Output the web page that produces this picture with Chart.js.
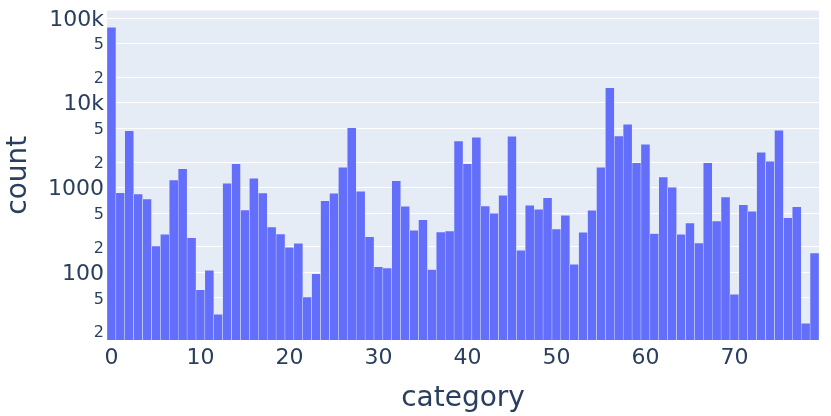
<!DOCTYPE html>
<html>
<head>
<meta charset="utf-8">
<script src="https://cdn.jsdelivr.net/npm/chart.js@4/dist/chart.umd.min.js"></script>
<style>
  html, body { margin: 0; padding: 0; background: #ffffff; }
  #wrap { width: 831px; height: 416px; }
</style>
</head>
<body>
<div id="wrap"><canvas id="histChart" width="831" height="416"></canvas></div>
<script>
// data
const categories = [
  0, 1, 2, 3, 4, 5, 6, 7, 8, 9, 10, 11, 12, 13, 14, 15, 16, 17, 18, 19,
  20, 21, 22, 23, 24, 25, 26, 27, 28, 29, 30, 31, 32, 33, 34, 35, 36, 37, 38, 39,
  40, 41, 42, 43, 44, 45, 46, 47, 48, 49, 50, 51, 52, 53, 54, 55, 56, 57, 58, 59,
  60, 61, 62, 63, 64, 65, 66, 67, 68, 69, 70, 71, 72, 73, 74, 75, 76, 77, 78, 79
];
const counts = [
  78000, 871, 4700, 840, 733, 205, 281, 1230, 1670, 256,
  62, 106, 32, 1125, 1914, 544, 1289, 863, 343, 283,
  197, 220, 51, 96, 700, 857, 1738, 5095, 904, 263,
  116, 112, 1205, 601, 313, 418, 108, 299, 307, 3548,
  1914, 3925, 607, 498, 811, 4036, 182, 618, 555, 760,
  324, 471, 124, 297, 540, 1738, 15100, 4064, 5584, 1968,
  3244, 288, 1334, 1009, 281, 382, 222, 1968, 404, 774,
  55, 628, 525, 2612, 2042, 4742, 441, 596, 25, 169
];
const xTickLabels = ['0', '10', '20', '30', '40', '50', '60', '70'];
const yTickValues = [20, 50, 100, 200, 500, 1000, 2000, 5000, 10000, 20000, 50000, 100000];
const yTickLabels = ['2', '5', '100', '2', '5', '1000', '2', '5', '10k', '2', '5', '100k'];
const yMajorValues = [100, 1000, 10000, 100000];

const FONT = 'DejaVu Sans';
const TEXT = '#2a3f5f';

// plot background like plotly
const plotBg = {
    id: 'plotBg',
    beforeDraw(chart) {
        const { ctx, chartArea } = chart;
        ctx.save();
        ctx.fillStyle = '#E5ECF6';
        ctx.fillRect(chartArea.left, chartArea.top, chartArea.right - chartArea.left, chartArea.bottom - chartArea.top);
        ctx.restore();
    }
};

const ctx = document.getElementById('histChart').getContext('2d');
new Chart(ctx, {
    type: 'bar',
    data: {
        labels: categories.map(String),
        datasets: [{
            label: 'count',
            data: counts,
            backgroundColor: '#636efa',
            borderColor: '#E5ECF6',
            borderWidth: 0.5,
            barPercentage: 1,
            categoryPercentage: 1
        }]
    },
    options: {
        responsive: false,
        animation: false,
        devicePixelRatio: 1,
        layout: { padding: { top: 10.5, right: 12, left: 0, bottom: 0 } },
        plugins: { legend: { display: false }, tooltip: { enabled: false } },
        scales: {
            x: {
                type: 'category',
                grid: { display: false, drawTicks: false },
                border: { display: false },
                ticks: {
                    autoSkip: false,
                    maxRotation: 0,
                    padding: 5,
                    color: TEXT,
                    font: { family: FONT, size: 22 },
                    callback: function(value, index) {
                        const lab = String(categories[index]);
                        return xTickLabels.includes(lab) ? lab : '';
                    }
                },
                title: {
                    display: true,
                    text: 'category',
                    color: TEXT,
                    font: { family: FONT, size: 28 },
                    padding: { top: 0, bottom: 0 }
                },
                afterFit: function(scale) {
                    scale.height = 76;
                    scale.paddingLeft = 0;
                    scale.paddingRight = 0;
                }
            },
            y: {
                type: 'logarithmic',
                min: 15.9,
                max: 123600,
                grid: { color: '#ffffff', lineWidth: 1, drawTicks: false },
                border: { display: false },
                ticks: {
                    padding: 3,
                    labelOffset: 1.5,
                    color: TEXT,
                    font: (c) => ({
                        family: FONT,
                        size: c.tick && yMajorValues.includes(c.tick.value) ? 22 : 16
                    }),
                    callback: function(value) {
                        const i = yTickValues.indexOf(value);
                        return i >= 0 ? yTickLabels[i] : '';
                    }
                },
                afterBuildTicks: function(scale) {
                    scale.ticks = yTickValues.map(v => ({ value: v }));
                },
                title: {
                    display: true,
                    text: 'count',
                    color: TEXT,
                    font: { family: FONT, size: 28 },
                    padding: { top: 2, bottom: 0 }
                },
                afterFit: function(scale) {
                    scale.width = 107;
                    scale.paddingTop = 0;
                    scale.paddingBottom = 0;
                }
            }
        }
    },
    plugins: [plotBg]
});
</script>
</body>
</html>
